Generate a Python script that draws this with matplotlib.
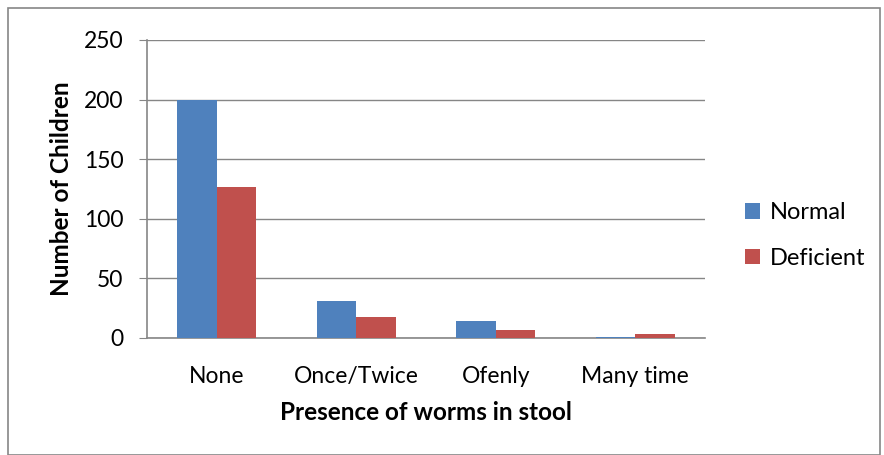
import numpy as np
import matplotlib.pyplot as plt
from matplotlib.patches import Rectangle

categories = ['None', 'Once/Twice', 'Ofenly', 'Many time']
normal = [200, 31, 14, 1]
deficient = [127, 18, 7, 3]

plt.rcParams['font.family'] = ['Lato', 'DejaVu Sans']

fig = plt.figure(figsize=(8.84, 4.55), dpi=100)
ax = fig.add_axes([147 / 884, 1 - 338 / 455, 558 / 884, 298 / 455])

x = np.arange(len(categories))
w = 0.283
ax.bar(x - w / 2, normal, w, color='#4F81BD', label='Normal', zorder=3)
ax.bar(x + w / 2, deficient, w, color='#C0504D', label='Deficient', zorder=3)

ax.set_xlim(-0.5, len(categories) - 0.5)
ax.set_ylim(0, 250)
ax.set_yticks(range(0, 251, 50))
ax.set_xticks(x)
ax.set_xticklabels(categories, fontsize=16.5)
ax.tick_params(axis='y', labelsize=16.5, length=6, color='#868686', pad=11)
ax.tick_params(axis='x', length=0, pad=20)
ax.grid(axis='y', color='#868686', linewidth=1, zorder=0)

for side in ['top', 'right']:
    ax.spines[side].set_visible(False)
for side in ['left', 'bottom']:
    ax.spines[side].set_color('#868686')
    ax.spines[side].set_linewidth(1.2)

ax.set_xlabel('Presence of worms in stool', fontsize=17.5, fontweight='bold', labelpad=10)
ax.set_ylabel('Number of Children', fontsize=17.5, fontweight='bold', labelpad=8)

ax.legend(loc='center left', bbox_to_anchor=(745 / 884, 1 - 235.5 / 455),
          bbox_transform=fig.transFigure, frameon=False, borderpad=0, borderaxespad=0,
          fontsize=17, handlelength=0.65, handleheight=0.65, labelspacing=1.05,
          handletextpad=0.4)

fig.patches.append(Rectangle((8 / 884, 0), 872 / 884, 1 - 8 / 455, transform=fig.transFigure,
                             fill=False, edgecolor='#868686', linewidth=1.2))

fig.savefig('out.png', dpi=100)
